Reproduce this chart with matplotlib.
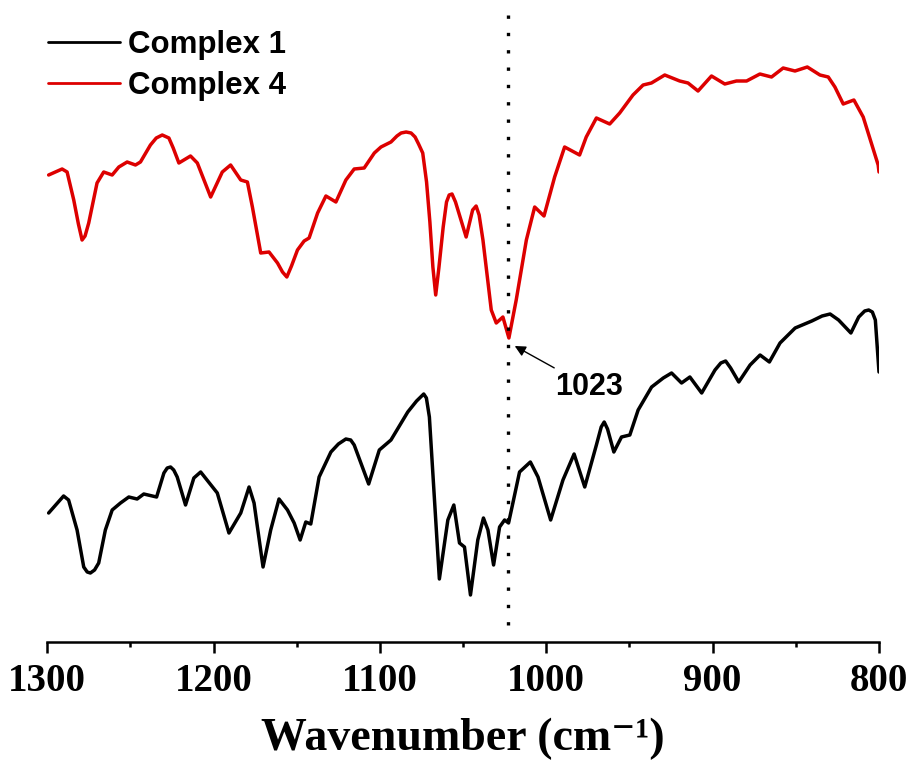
import numpy as np
import matplotlib
matplotlib.use("Agg")
import matplotlib.pyplot as plt

# FTIR spectra, transmittance in arbitrary units (offset stacked)
wn_c4 = [1299.2, 1291.1, 1288.1, 1284.1, 1281.3, 1279.1, 1277.3, 1275.1, 1270.1, 1266.1,
         1261.0, 1257.0, 1252.0, 1247.0, 1244.0, 1238.0, 1234.5, 1230.9, 1226.9, 1224.3,
         1220.9, 1213.9, 1209.8, 1201.8, 1194.8, 1189.8, 1183.7, 1179.7, 1176.7, 1171.7,
         1166.7, 1161.6, 1158.6, 1156.0, 1153.2, 1149.6, 1145.6, 1142.6, 1137.5, 1132.5,
         1126.5, 1120.5, 1115.5, 1109.5, 1103.4, 1099.4, 1093.4, 1089.8, 1087.3, 1084.3,
         1081.3, 1078.9, 1076.8, 1074.3, 1072.0, 1070.0, 1068.2, 1066.5, 1064.6, 1062.0,
         1060.0, 1058.4, 1056.7, 1054.6, 1048.2, 1044.3, 1042.2, 1040.4, 1038.1, 1033.1,
         1030.1, 1026.1, 1022.5, 1018.1, 1012.0, 1007.0, 1001.4, 995.0, 989.0, 980.0,
         976.0, 969.9, 961.9, 955.9, 947.9, 941.8, 936.8, 928.8, 919.8, 914.8,
         908.8, 900.7, 892.7, 885.7, 879.6, 871.6, 864.6, 857.6, 850.5, 843.1,
         835.5, 830.5, 826.5, 821.5, 815.1, 809.5, 800.5, 800.0]
t_c4 = [46.7, 47.3, 47.0, 44.2, 41.8, 40.2, 40.6, 41.9, 45.9, 47.0,
        46.7, 47.5, 48.0, 47.7, 48.0, 49.7, 50.4, 50.7, 50.4, 49.4,
        47.9, 48.6, 47.9, 44.5, 47.0, 47.7, 46.2, 46.0, 43.5, 38.9,
        39.0, 37.9, 37.0, 36.5, 37.6, 39.2, 40.1, 40.4, 42.9, 44.6,
        44.0, 46.2, 47.3, 47.4, 48.9, 49.5, 50.0, 50.6, 50.9, 51.0,
        50.9, 50.5, 49.8, 48.9, 46.0, 42.0, 37.5, 34.7, 37.4, 41.5,
        44.0, 44.7, 44.8, 44.0, 40.5, 43.2, 43.6, 42.7, 40.2, 33.2,
        31.9, 32.5, 30.4, 34.2, 40.2, 43.5, 42.6, 46.5, 49.5, 48.7,
        50.5, 52.4, 51.8, 52.9, 54.7, 55.7, 55.9, 56.7, 56.1, 55.9,
        55.1, 56.6, 55.8, 56.1, 56.1, 56.8, 56.5, 57.4, 57.1, 57.5,
        56.7, 56.5, 55.5, 53.8, 54.2, 52.5, 47.7, 47.0]

wn_c1 = [1299.2, 1290.2, 1287.2, 1282.1, 1278.1, 1276.0, 1274.1, 1271.6, 1269.1, 1265.1,
         1261.0, 1256.0, 1251.0, 1246.0, 1242.0, 1234.3, 1229.9, 1227.9, 1225.9, 1224.0,
         1221.9, 1216.9, 1211.9, 1207.8, 1197.8, 1190.8, 1183.7, 1178.7, 1175.7, 1170.3,
         1165.7, 1160.7, 1155.6, 1151.6, 1148.0, 1144.6, 1141.6, 1136.6, 1129.5, 1125.0,
         1120.5, 1117.6, 1115.5, 1106.8, 1100.4, 1093.4, 1083.3, 1078.0, 1073.7, 1072.1,
         1070.3, 1064.3, 1059.2, 1055.6, 1052.2, 1049.2, 1045.6, 1041.2, 1037.8, 1035.1,
         1031.7, 1028.1, 1025.1, 1022.7, 1020.1, 1016.1, 1009.6, 1005.0, 997.4, 990.0,
         983.3, 976.9, 969.9, 967.0, 965.2, 963.2, 959.4, 954.8, 949.8, 944.8,
         936.7, 929.7, 924.7, 918.7, 913.7, 906.6, 898.6, 895.1, 892.2, 889.2,
         884.3, 877.5, 871.5, 865.9, 859.5, 850.4, 840.4, 834.2, 829.4, 824.3,
         816.9, 812.2, 808.6, 806.2, 804.0, 802.2, 800.0]
t_c1 = [12.9, 14.6, 14.2, 11.2, 7.5, 7.0, 6.9, 7.2, 7.9, 11.2,
        13.2, 13.9, 14.5, 14.3, 14.8, 14.5, 16.9, 17.4, 17.5, 17.2,
        16.5, 13.7, 16.4, 17.0, 14.9, 10.9, 12.9, 15.5, 13.9, 7.5,
        11.2, 14.3, 13.2, 11.9, 10.2, 12.0, 11.8, 16.5, 19.0, 19.8,
        20.3, 20.2, 19.7, 15.8, 19.2, 20.2, 23.0, 24.1, 24.8, 24.4,
        22.5, 6.3, 12.2, 13.7, 9.9, 9.5, 4.7, 10.2, 12.4, 11.2,
        7.7, 11.5, 12.2, 11.9, 13.9, 17.0, 18.0, 16.5, 12.2, 16.2,
        18.8, 15.5, 19.7, 21.5, 22.0, 21.3, 19.0, 20.5, 20.7, 23.2,
        25.5, 26.4, 26.9, 25.9, 26.5, 24.9, 27.2, 27.9, 28.1, 27.4,
        26.0, 27.7, 28.7, 28.0, 29.9, 31.4, 32.1, 32.6, 32.8, 32.2,
        30.9, 32.5, 33.1, 33.2, 33.0, 32.2, 27.0]

series = [("Complex 1", wn_c1, t_c1, "black"),
          ("Complex 4", wn_c4, t_c4, "#dd0000")]
marked_peak = 1023

fig = plt.figure(figsize=(9.12, 7.69), dpi=100)
ax = fig.add_axes([47.3 / 912, 127 / 769, (879 - 47.3) / 912, 642 / 769])

for name, wn, t, col in series:
    ax.plot(wn, t, color=col, lw=2.5, label=name,
            solid_joinstyle="round", solid_capstyle="round")

ax.vlines(marked_peak, 1.7, 62.7, colors="black", lw=2.4,
          linestyles=(0, (1, 4.2)))

ax.annotate(str(marked_peak), xy=(1019, 29.6), xytext=(974.5, 25.5),
            ha="center", va="center", fontsize=22, fontweight="bold",
            family="Liberation Sans",
            arrowprops=dict(arrowstyle="-|>", color="black", lw=1.0,
                            mutation_scale=16, shrinkA=2, shrinkB=0))

ax.set_xlim(1300, 800)
ax.set_ylim(0, 64.2)
ax.set_xticks([1300, 1200, 1100, 1000, 900, 800])
ax.set_xticks(np.arange(800, 1301, 50), minor=True)
ax.set_yticks([])
for side in ["left", "right", "top"]:
    ax.spines[side].set_visible(False)
ax.spines["bottom"].set_linewidth(1.8)
ax.tick_params(axis="x", which="major", direction="out", length=8, width=1.8, pad=7)
ax.tick_params(axis="x", which="minor", direction="out", length=3.6, width=1.8)
for lab in ax.get_xticklabels():
    lab.set_family("Liberation Serif")
    lab.set_fontweight("bold")
    lab.set_fontsize(28)

ax.set_xlabel("Wavenumber (cm\u207b\u00b9)", family=["Liberation Serif", "DejaVu Serif"],
              fontweight="bold", fontsize=33, labelpad=13)

leg = ax.legend(loc="upper left", bbox_to_anchor=(48 / 912, 1 - 30 / 769),
                bbox_transform=fig.transFigure, frameon=False, borderpad=0,
                borderaxespad=0, handlelength=2.3, handletextpad=0.26,
                labelspacing=0.34, prop={"family": "Liberation Sans",
                                         "weight": "bold", "size": 22.5})
for h in leg.get_lines():
    h.set_linewidth(2.0)

fig.savefig("out.png", dpi=100)
